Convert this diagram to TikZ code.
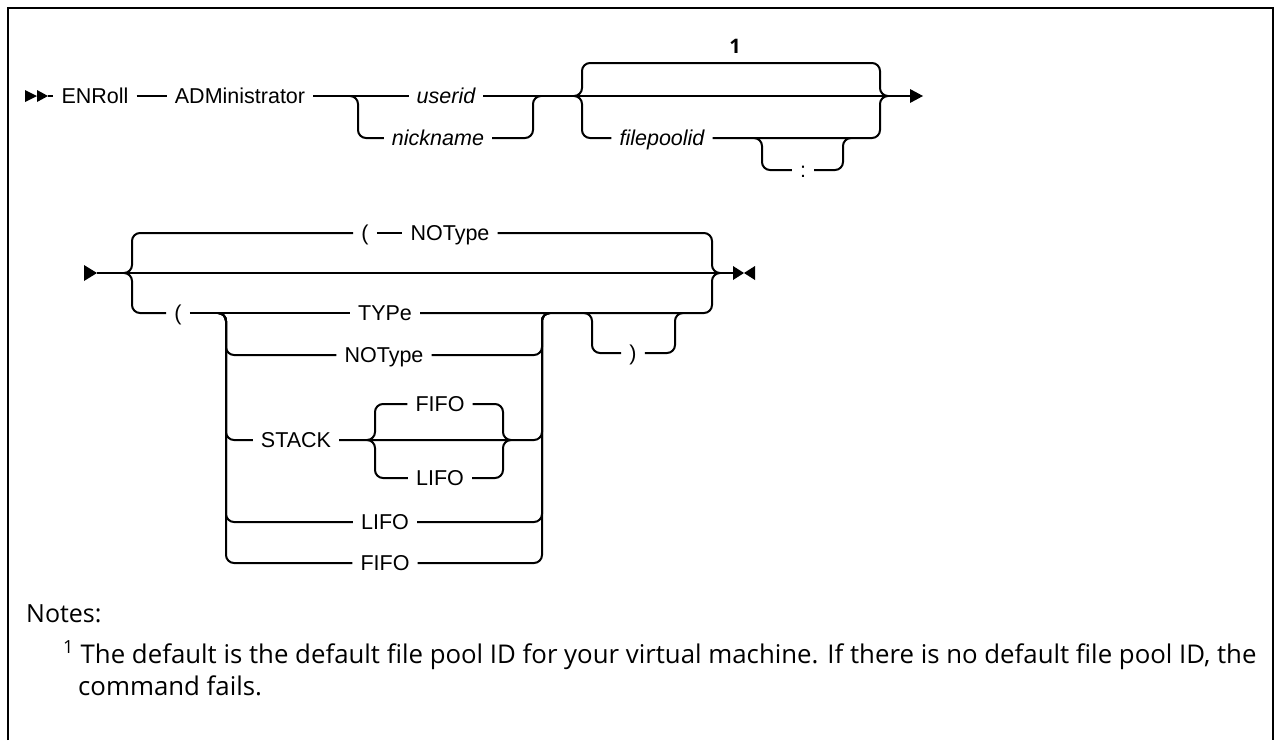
\documentclass[tikz,border=0pt]{standalone}
\usepackage{fontspec}
\setmainfont{Liberation Sans}
\newfontfamily\notefont{Open Sans}
\begin{document}
\begin{tikzpicture}[x=1pt,y=-1pt,
  rail/.style={line width=2pt, rounded corners=8pt},
  lbl/.style={font=\fontsize{21.5}{25}\selectfont, inner xsep=8pt, inner ysep=0pt, text height=15pt, text depth=0pt},
  ilbl/.style={lbl, font=\fontsize{21.5}{25}\selectfont\itshape},
  notestyle/.style={anchor=base west, inner sep=0pt, font=\notefont\fontsize{25.8}{32}\selectfont}]
\useasboundingbox (0,0) rectangle (1274,740);
\draw[line width=2pt] (8,740) -- (8,8) -- (1273,8) -- (1273,740);

% ---------- row 1 ----------
\coordinate (s1) at (48,96);
\coordinate (e1) at (910,96);
\fill (25,90) -- (37,96) -- (25,102) -- cycle;
\fill (37,90) -- (48,96) -- (37,102) -- cycle;
\node[lbl] (enroll) at (95,96) {ENRoll};
\node[lbl] (admin) at (240,96) {ADMinistrator};
\node[ilbl] (userid) at (446,96) {userid};
\node[ilbl] (nick) at (438,138) {nickname};
\node[ilbl] (fpid) at (662,138) {filepoolid};
\node[lbl] (colon) at (803,170) {:};
\node[inner sep=0pt, font=\notefont\bfseries\fontsize{20}{22}\selectfont] (one) at (735,46) {1};

\draw[rail] (s1) -- (enroll);
\draw[rail] (enroll) -- (admin);
\draw[rail] (admin) -- (userid);
\draw[rail] (userid) -- (e1);
\fill (e1) ++(0,-7) -- ++(13,7) -- ++(-13,7) -- cycle;

\draw[rail] (350,96) -- (358,96) -- (358,138) -- (nick);
\draw[rail] (nick) -- (533,138) -- (533,96) -- (541,96);

\draw[rail] (574,96) -- (582,96) -- (582,63) -- (880,63) -- (880,96) -- (888,96);
\draw[rail] (574,96) -- (582,96) -- (582,138) -- (fpid);
\draw[rail] (fpid) -- (880,138) -- (880,96) -- (888,96);
\draw[rail] (754,138) -- (762,138) -- (762,170) -- (colon);
\draw[rail] (colon) -- (843,170) -- (843,138) -- (851,138);

% ---------- row 2 ----------
\coordinate (s2) at (97,273);
\coordinate (e2) at (733,273);
\fill (84,265) -- (97,273) -- (84,281) -- cycle;
\draw[rail] (s2) -- (e2);
\fill (733,266) -- (744,273) -- (733,280) -- cycle;
\fill (755,266) -- (744,273) -- (755,280) -- cycle;

\node[lbl] (lp1) at (365,233) {(};
\node[lbl] (not1) at (450,233) {NOType};
\node[lbl] (lp2) at (178,313) {(};
\node[lbl] (type) at (385,313) {TYPe};
\node[lbl] (not2) at (384,355) {NOType};
\node[lbl] (stack) at (296,440) {STACK};
\node[lbl] (fifoa) at (440,404) {FIFO};
\node[lbl] (lifoa) at (440,478) {LIFO};
\node[lbl] (lifob) at (385,522) {LIFO};
\node[lbl] (fifob) at (385,563) {FIFO};
\node[lbl] (rp) at (633,353) {)};

\draw[rail] (124,273) -- (132,273) -- (132,233) -- (lp1);
\draw[rail] (lp1) -- (not1);
\draw[rail] (not1) -- (712,233) -- (712,273) -- (720,273);
\draw[rail] (124,273) -- (132,273) -- (132,313) -- (lp2);
\draw[rail] (lp2) -- (type);
\draw[rail] (type) -- (712,313) -- (712,273) -- (720,273);

\draw[rail] (218,313) -- (226,313) -- (226,355) -- (not2);
\draw[rail] (218,313) -- (226,313) -- (226,440) -- (stack);
\draw[rail] (218,313) -- (226,313) -- (226,522) -- (lifob);
\draw[rail] (218,313) -- (226,313) -- (226,563) -- (fifob);

\draw[rail] (not2) -- (542,355) -- (542,313) -- (550,313);
\draw[rail] (stack) -- (542,440) -- (542,313) -- (550,313);
\draw[rail] (lifob) -- (542,522) -- (542,313) -- (550,313);
\draw[rail] (fifob) -- (542,563) -- (542,313) -- (550,313);

\draw[rail] (367,440) -- (375,440) -- (375,404) -- (fifoa);
\draw[rail] (fifoa) -- (503,404) -- (503,440) -- (511,440);
\draw[rail] (367,440) -- (375,440) -- (375,478) -- (lifoa);
\draw[rail] (lifoa) -- (503,478) -- (503,440) -- (511,440);

\draw[rail] (584,313) -- (592,313) -- (592,353) -- (rp);
\draw[rail] (rp) -- (675,353) -- (675,313) -- (683,313);

% ---------- notes ----------
\node[notestyle, font=\notefont\fontsize{25}{30}\selectfont] (notes) at (26,622) {Notes:};
\node[notestyle] (n1) at (63,663) {\textsuperscript{1} The default is the default file pool ID for your virtual machine. If there is no default file pool ID, the};
\node[notestyle] (n2) at (78,695) {command fails.};
\end{tikzpicture}
\end{document}
